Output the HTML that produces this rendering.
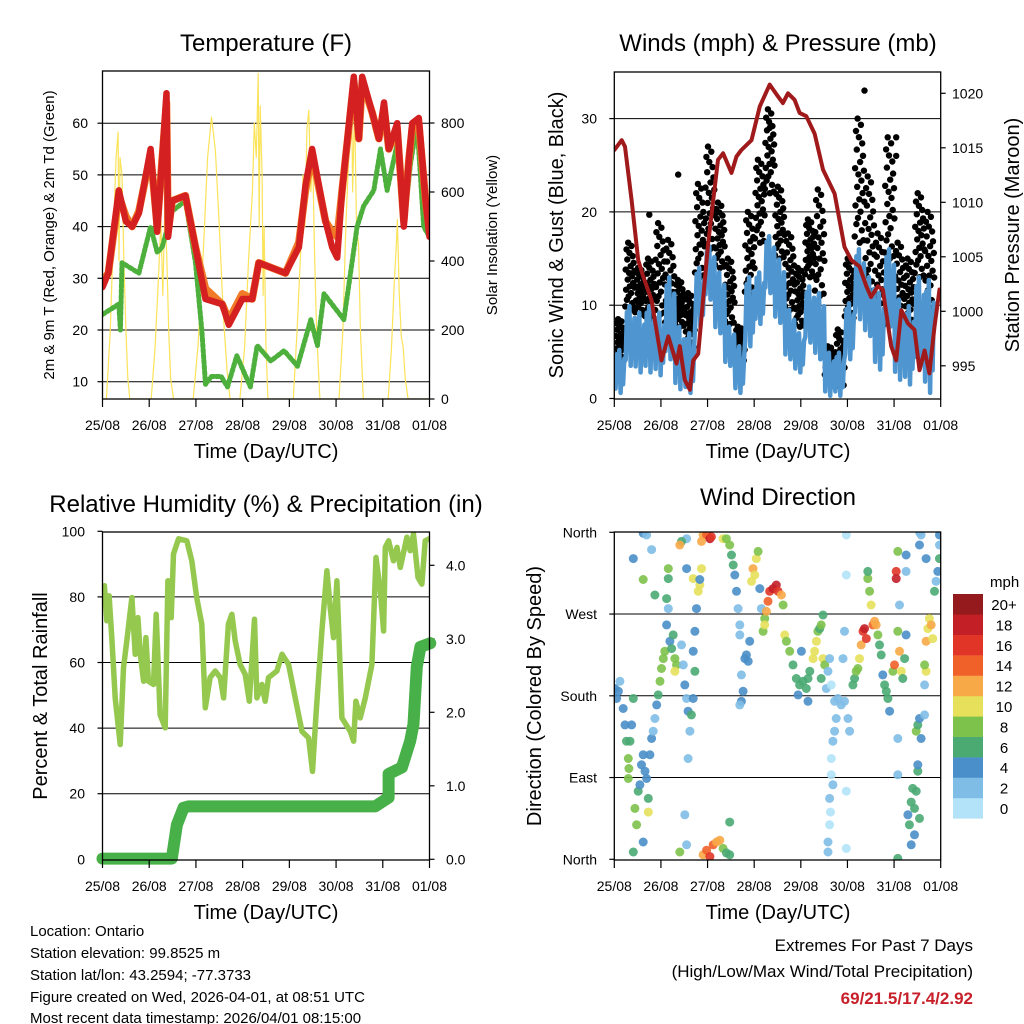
<!DOCTYPE html>
<html><head><meta charset="utf-8"><style>
body{margin:0;background:#fff}
svg{display:block;font-family:"Liberation Sans",sans-serif}
</style></head><body>
<svg id="s" width="1024" height="1024" viewBox="0 0 1024 1024" xmlns="http://www.w3.org/2000/svg">
<defs>
<clipPath id="c1"><rect x="102.5" y="71" width="327" height="328"/></clipPath>
<clipPath id="c2"><rect x="614.3" y="72" width="326.4" height="327"/></clipPath>
<clipPath id="c3"><rect x="102.5" y="532" width="327" height="328"/></clipPath>
<clipPath id="c4"><rect x="614.3" y="532" width="326.4" height="328"/></clipPath>
</defs>
<text x="266" y="51" font-size="24" text-anchor="middle">Temperature (F)</text>
<text x="778" y="51" font-size="24" text-anchor="middle">Winds (mph) &amp; Pressure (mb)</text>
<text x="266" y="512" font-size="24" text-anchor="middle">Relative Humidity (%) &amp; Precipitation (in)</text>
<text x="778" y="505" font-size="24" text-anchor="middle">Wind Direction</text>
<text transform="translate(54,235) rotate(-90)" font-size="15" text-anchor="middle">2m &amp; 9m T (Red, Orange) &amp; 2m Td (Green)</text>
<text transform="translate(497,235) rotate(-90)" font-size="15" text-anchor="middle">Solar Insolation (Yellow)</text>
<text transform="translate(563,235) rotate(-90)" font-size="20" text-anchor="middle">Sonic Wind &amp; Gust (Blue, Black)</text>
<text transform="translate(1019,235) rotate(-90)" font-size="20" text-anchor="middle">Station Pressure (Maroon)</text>
<text transform="translate(47,696) rotate(-90)" font-size="20" text-anchor="middle">Percent &amp; Total Rainfall</text>
<text transform="translate(541,696) rotate(-90)" font-size="20" text-anchor="middle">Direction (Colored By Speed)</text>
<text x="266" y="458" font-size="20" text-anchor="middle">Time (Day/UTC)</text>
<text x="778" y="458" font-size="20" text-anchor="middle">Time (Day/UTC)</text>
<text x="266" y="919" font-size="20" text-anchor="middle">Time (Day/UTC)</text>
<text x="778" y="919" font-size="20" text-anchor="middle">Time (Day/UTC)</text>
<g font-size="15">
<text x="30" y="936">Location: Ontario</text>
<text x="30" y="958">Station elevation: 99.8525 m</text>
<text x="30" y="980">Station lat/lon: 43.2594; -77.3733</text>
<text x="30" y="1002">Figure created on Wed, 2026-04-01, at 08:51 UTC</text>
<text x="30" y="1023">Most recent data timestamp: 2026/04/01 08:15:00</text>
</g>
<g font-size="17" text-anchor="end">
<text x="973" y="951">Extremes For Past 7 Days</text>
<text x="973" y="977">(High/Low/Max Wind/Total Precipitation)</text>
<text x="973" y="1004" fill="#c8202a" font-weight="bold">69/21.5/17.4/2.92</text>
</g>
<text x="990" y="587" font-size="15">mph</text>
</svg>
<script>
// ---- Temperature panel data ----
const tempT=[0,3,8.4,12,15.2,18.7,24.7,28.1,30.6,32.9,33.7,35.8,42.6,47.8,52.9,61.5,64.9,71.8,76.9,80.3,87.2,94.0,100.9,104.3,107.7,114.6,118.0,120.6,123.1,129.1,131.7,133.4,138.6,142.0,144.6,147.1,151.4,154.8,157.4,159.1,162.5,166.0,168];
const tempV=[28.3,31,47,41,40,42.6,55,39,53,65.8,38,45,46,36,26,25,21,26,26,33,32,31,36,48,55,41,36,34,47,69,57,69,62,57,64,55,60,40,53,60,61,45,38];
const temp9V=[29.5,31,46,42,40,43,54,40,53,64,39,45,46,36,28,25,22,27,26,33,32,31,37,47,54,41,39,38,47,68,57,68,62,57,63,55,59,41,53,59,60,45,39];
const tdT=[0,8.4,9.2,10,18.7,24.7,28.1,30.6,35.8,42.6,47.8,51,52.9,56,61,64.2,69,76,79.5,86.4,93.3,100.2,107,110.4,113.8,124,130.8,134.2,139.4,142.8,146.2,151.4,154.8,158.2,161.6,165,168];
const tdV=[23,25,20,33,31,40,35,36,43,45,33,20,9.5,11,11,9,15,9,17,14,16,13,22,17,27,22,40,44,47,55,47,56,40,52,60,40,38];
const solarT=[0,2,4,6,7,8,8.5,9,10,11,12,13,14,25,27,29,30,31,32,33,34,35,36.5,46.6,49,52,54,56,58,60,62,64,65.5,70.6,73,75,77,78,79,80,80.5,81,82,82.5,83,84,85,98,100,102,103,104,105,106,107,108,109,110,111.7,121.5,123.5,125,126.5,128,128.5,129.5,130.5,131.5,132.5,134,146.8,148.5,150,151,151.5,152.5,153.5,154.5,155.5,157,168];
const solarV=[0,0,200,550,700,774,400,700,650,400,200,60,0,0,150,380,520,300,550,420,200,60,0,0,150,450,700,817,720,500,250,80,0,0,150,400,600,800,700,944,500,850,650,300,500,150,0,0,200,450,650,500,780,837,600,700,400,200,0,0,200,500,700,915,600,850,500,450,200,0,0,150,350,450,520,300,180,150,60,0,0];
const tempTicks=[10,20,30,40,50,60];
const solarTicks=[0,200,400,600,800];
const dayLabels=["25/08","26/08","27/08","28/08","29/08","30/08","31/08","01/08"];
// ---- Wind panel data ----
const gustT=[2.9,8.1,13.2,18.3,23.5,28.6,33.7,38.9,44.0,49.2,54.3,59.4,64.6,69.7,74.9,80.0,85.1,90.3,95.4,100.6,105.7,110.8,116.0,121.1,126.2,131.4,136.5,141.7,146.8,151.9,157.1,162.2];
const gustHi=[8.5,16.7,14,15,18.8,17,12.7,11.3,23,27,21,15,7.7,20,25.6,31,22.7,17.7,14,19.2,22.4,5.6,7.4,15,30,23.8,17.7,28,16.7,15,22,20];
const gustLo=[4,9.5,9,8.5,9,7.7,7.7,5.4,13,16,14,8,4,11,16.7,22,15,9.5,7.7,13,11,2.4,1.3,8.5,16.7,11.3,7.7,15,7.7,7.7,13,9.5];
const windHi=[5.2,9.9,9.2,9.9,9.2,13,7.7,7,14,16.3,13.5,7.7,5.6,13,13.5,17.4,14.9,9.5,7,12,11.3,4.9,4.9,10.2,16,13,11.3,16,10.6,9.9,13,12.7];
const windLo=[0.6,3.5,2.8,2.8,2.5,4.2,1,0.6,7.7,10.6,7,3.5,0.6,5.6,8,11.3,8.1,4.2,2.8,6,4.2,0.3,0.3,4.2,8.5,6.7,3.1,7.7,2,1.5,3.5,0.6];
const gustExtraT=[32.9,128.8,18.0,80.0,145.1,145.1];
const gustExtraV=[24,33,19.7,29,28,26];
const presT=[0,3.8,5.5,8.9,12.3,14.9,19.2,24.3,27.8,32.0,33.7,36.3,38.9,40.6,43.2,48.3,53.4,56.0,60.3,62.9,65.4,70.6,74.9,80.0,84.3,86.8,89.4,92.8,95.4,98.8,103.1,107.4,113.4,118.5,122.0,126.2,129.7,132.2,135.7,138.2,142.5,145.1,147.7,151.1,154.5,157.1,159.7,162.2,164.8,167.4,168.2];
const presV=[1014.8,1015.7,1015.1,1010.2,1004.7,1003.2,1001.0,995.5,997.7,995.2,996.8,993.7,992.8,995.5,996.1,1006.2,1013.9,1014.5,1012.7,1014.2,1014.8,1015.7,1018.8,1020.8,1019.7,1019.1,1020.0,1019.4,1018.2,1017.9,1016.3,1013.0,1010.8,1005.9,1004.7,1004.1,1002.3,1001.3,1002.3,1002.0,996.8,995.5,1000.1,998.9,998.3,994.6,996.4,994.3,998.6,1002.0,1001.7];
const windTicks=[0,10,20,30];
const presTicks=[995,1000,1005,1010,1015,1020];
// ---- RH panel data ----
const rhT=[0,1.0,2.2,3.4,4.8,6.5,9.1,10.8,12.5,15.1,16.8,18.2,19.4,21.1,22.3,23.6,26.2,27.6,29.6,32.2,33.6,35.3,36.5,39.1,43.3,45.9,48.4,51.0,52.8,55.3,57.9,60.5,62.2,64.7,66.5,68.2,70.7,73.3,75.4,78.1,79.3,81.9,83.6,85.3,89.6,92.2,95.6,99.0,102.5,105.9,107.9,109.7,112.7,115.3,117.0,118.7,120.4,123.0,127.3,129.0,130.2,132.4,135.0,138.4,140.5,142.7,144.4,145.3,147.0,149.5,151.3,153.0,156.4,158.1,159.8,162.1,164.1,165.8,168.0];
const rhV=[78.8,83.4,72.7,80.3,67.6,49.2,35.0,58.4,66.6,79.8,62.5,73.7,62.5,54.3,67.6,54.3,53.3,74.7,44.1,40.1,84.9,73.7,93.1,97.7,97.1,91.0,79.8,71.7,46.2,55.4,57.4,55.4,49.2,71.7,74.7,66.6,59.4,56.4,48.2,73.2,49.2,53.3,48.2,55.4,57.4,62.5,59.4,49.2,39.0,37.0,26.8,44.1,69.6,88.0,76.8,67.6,84.9,43.1,39.0,36.0,48.2,43.1,49.2,59.4,92.0,81.9,69.6,95.1,97.1,91.0,95.1,89.0,98.2,94.1,99.2,85.9,83.9,97.1,97.7];
const rainT=[0,35.6,38.2,41.6,44.2,140.1,147.0,147.0,153.8,158.1,159.8,161.5,163.3,168.4];
const rainV=[0.01,0.01,0.47,0.70,0.72,0.72,0.84,1.16,1.25,1.61,1.84,2.62,2.89,2.94];
const rhTicks=[0,20,40,60,80,100];
const rainTicks=[0,1,2,3,4];
// ---- Wind direction data ----
const dirT=[0.3,2.1,2.9,1.2,4.6,5.5,6.3,7.2,7.5,8.1,8.9,9.8,7.2,10.6,11.5,12.3,13.2,14.0,14.9,15.8,16.6,17.5,17.5,18.3,19.2,20.0,20.9,21.8,22.6,23.5,24.3,25.2,26.0,9.8,14.9,26.9,27.8,28.6,29.5,30.3,31.2,32.0,31.2,27.8,26.9,34.6,35.5,36.3,37.2,38.0,38.9,38.0,39.7,40.6,41.5,40.6,41.5,42.3,43.2,44.0,44.9,37.2,37.2,34.6,33.7,37.2,33.7,36.3,45.7,47.5,49.2,50.9,52.6,54.3,56.0,57.7,59.4,59.4,45.7,47.5,49.2,50.0,44.9,56.0,57.7,59.4,60.3,61.2,62.0,62.9,63.7,64.6,64.6,65.4,66.3,67.2,68.0,68.9,69.7,65.4,64.6,71.4,72.3,73.1,74.0,70.6,74.9,75.7,77.4,78.3,79.1,80.0,81.7,83.4,84.3,86.0,86.9,76.6,77.4,87.7,88.6,90.3,92.0,93.7,95.4,97.1,98.8,99.7,100.6,96.3,94.6,99.7,102.3,103.1,104.0,104.8,105.7,106.5,107.4,107.4,108.3,106.5,109.1,110.0,110.8,111.7,113.4,114.2,113.4,112.5,111.7,111.7,112.5,110.8,111.3,110.8,110.0,110.0,115.1,116.8,118.5,120.3,121.1,117.7,118.5,119.4,119.4,119.4,119.4,122.8,123.7,124.5,125.4,126.2,127.1,128.0,128.8,129.7,130.5,131.4,132.2,133.1,134.0,134.8,135.7,136.5,137.4,138.2,139.1,140.0,140.8,141.7,130.5,143.4,144.2,145.1,145.1,145.9,146.8,147.7,148.5,149.4,150.2,146.8,145.9,150.2,150.2,145.9,145.9,145.9,151.1,151.9,152.8,153.6,154.5,155.4,156.2,156.2,157.1,154.5,152.8,155.4,156.2,157.1,157.9,159.7,159.7,160.5,159.7,160.5,161.4,162.2,163.1,163.9,164.8,165.6,166.5,167.4,167.4,167.4,157.1,157.1,160.5,157.9,9.8,14.9,16.6,19.2,14.9,20.9,27.8,40.6,44.0];
const dirV=[188,185,196,177,166,148,130,111,100,130,148,177,89,56,38,75,82,104,115,97,89,67,52,115,133,141,155,170,181,196,210,221,229,8,19,258,276,240,232,247,221,214,207,309,287,236,214,192,177,163,141,111,159,177,207,229,251,276,295,302,320,320,353,350,346,16,8,49,5,10,3,16,19,21,12,7,5,41,357,357,353,355,350,353,353,346,335,324,313,295,276,258,247,203,185,221,225,218,240,174,170,320,313,331,339,306,298,276,265,273,284,295,298,302,295,291,280,251,258,247,240,229,214,199,192,196,188,199,207,229,181,174,221,229,240,251,254,258,269,221,214,199,188,207,221,192,174,155,141,130,111,93,82,67,52,38,19,8,177,170,174,155,141,221,251,357,313,75,12,192,199,207,210,221,236,251,254,243,309,295,280,258,262,258,247,236,225,203,192,185,177,163,317,207,214,317,309,251,229,207,199,221,247,280,339,335,317,133,93,1,49,38,63,78,56,75,97,104,45,27,16,141,148,155,133,159,192,207,214,240,254,265,258,243,295,306,317,331,346,357,360,346,331,357,331,359,357,341,308,291,320,309,308];
const dirS=[4,4,3,4,5,4,7,8,8,6,5,6,8,8,9,6,5,4,4,5,4,6,10,4,4,3,3,5,7,8,8,9,8,6,4,4,3,4,6,6,9,8,10,7,6,3,2,4,3,5,3,2,6,5,6,4,5,4,10,10,11,4,2,6,12,2,8,2,12,14,17,14,13,12,9,7,6,7,13,15,18,16,12,10,8,8,7,6,5,4,3,3,2,3,4,4,5,4,4,4,2,12,11,11,8,10,4,3,8,13,14,17,18,18,16,13,9,9,10,11,9,8,7,6,6,6,6,7,6,4,4,4,10,11,10,8,7,8,7,10,8,6,2,3,2,1,2,2,2,2,1,1,2,2,1,1,3,3,2,2,3,2,2,2,3,1,1,0,1,7,7,8,8,10,13,16,18,16,8,9,10,14,12,12,9,7,6,5,6,7,6,5,7,9,14,16,18,8,12,10,7,7,5,3,8,4,3,2,2,6,5,6,7,6,6,6,7,4,6,5,4,8,6,5,4,3,3,10,9,12,10,10,12,11,6,3,4,6,3,4,3,4,4,2,4,4,3,2,8,6,8,10];
const dirTicks=[0,90,180,270,360];
const dirLabels=["North","East","South","West","North"];
const speedColors=["#b3e3f8","#7fbde6","#4a8fc9","#4aaa72","#7dc24b","#e6e05a","#f7a947","#ef6129","#e03527","#c31f27","#951a1d"];
const speedLabels=["0","2","4","6","8","10","12","14","16","18","20+"];

const NS="http://www.w3.org/2000/svg";
const svg=document.getElementById('s');
function mk(tag,parent){const e=document.createElementNS(NS,tag);(parent||svg).appendChild(e);return e;}
function pathFrom(ts,vs,fx,fy){let d='';for(let i=0;i<ts.length;i++){d+=(i?'L':'M')+fx(ts[i]).toFixed(1)+','+fy(vs[i]).toFixed(1);}return d;}

const x1=h=>102.5+h*327/168;
const x2=h=>614.3+h*326.4/168;
const yT=v=>381.7-(v-10)*5.17;
const yS=w=>399-w*0.345;
const yW=v=>398.5-v*9.33;
const yP=p=>93.3+(1020-p)*10.9;
const yR=v=>859.3-v*3.28;
const yRain=r=>859.3-r*73.5;
const yD=d=>859.3-d*327/360;

function frame(x0,y0,w,h,name){
  const r=mk('rect');r.setAttribute('x',x0);r.setAttribute('y',y0);r.setAttribute('width',w);r.setAttribute('height',h);
  r.setAttribute('fill','none');r.setAttribute('stroke','#000');r.setAttribute('stroke-width','1.3');
  
  
}
function hgrid(x0,w,y,name){const l=mk('line');l.setAttribute('x1',x0);l.setAttribute('x2',x0+w);l.setAttribute('y1',y);l.setAttribute('y2',y);l.setAttribute('stroke','#000');l.setAttribute('stroke-width','1');
  
  }
function tick(x,y,dx,dy){const l=mk('line');l.setAttribute('x1',x);l.setAttribute('y1',y);l.setAttribute('x2',x+dx);l.setAttribute('y2',y+dy);l.setAttribute('stroke','#000');l.setAttribute('stroke-width','1.2');
  
  }
function label(x,y,txt,anchor,size,name){const t=mk('text');t.setAttribute('x',x);t.setAttribute('y',y);t.setAttribute('text-anchor',anchor);t.setAttribute('font-size',size);t.textContent=txt;
  
  }
function xAxis(fx,yb){for(let i=0;i<8;i++){const x=fx(i*24);tick(x,yb,0,8);label(x,yb+31,dayLabels[i],'middle',14,'x-tick-label');}}
function line(d,color,w,clip,name,dash){const p=mk('path');p.setAttribute('d',d);p.setAttribute('fill','none');p.setAttribute('stroke',color);p.setAttribute('stroke-width',w);p.setAttribute('stroke-linejoin','round');p.setAttribute('stroke-linecap','round');if(dash)p.setAttribute('stroke-dasharray',dash);p.setAttribute('clip-path','url(#'+clip+')');
  
  return p;}

// ===== Panel 1 =====
tempTicks.forEach(v=>{hgrid(102.5,327,yT(v),'temp-gridline');tick(102.5,yT(v),-5,0);label(88,yT(v)+5,String(v),'end',14,'temp-tick-label');});
solarTicks.forEach(v=>{tick(429.5,yS(v),5,0);label(441,yS(v)+5,String(v),'start',14,'solar-tick-label');});
line(pathFrom(solarT,solarV,x1,yS),'#fbe35a',1.2,'c1','solar-insolation-line');
line(pathFrom(tdT,tdV,x1,yT),'#4daf3c',5,'c1','dewpoint-line','3 2.5');
line(pathFrom(tempT,temp9V,x1,yT),'#f07a28',7.5,'c1','temp-9m-line');
line(pathFrom(tempT,tempV,x1,yT),'#d42020',6.5,'c1','temp-2m-line');
frame(102.5,71,327,328,'temperature-plot-frame');
xAxis(x1,399);

// ===== Panel 2 =====
windTicks.forEach(v=>{if(v>0)hgrid(614.3,326.4,yW(v),'wind-gridline');tick(614.3,yW(v),-5,0);label(597,yW(v)+5,String(v),'end',14,'wind-tick-label');});
presTicks.forEach(v=>{tick(940.7,yP(v),5,0);label(952,yP(v)+5,String(v),'start',14,'pressure-tick-label');});
const fr=[0.05,0.6,0.3,0.9,0.15,0.75,0.45,1,0.2,0.55,0.85,0.35,0.0,0.65,0.25,0.95,0.5,0.1,0.8,0.4,0.7,0.02,0.58,0.33];
const gG=mk('g');gG.setAttribute('clip-path','url(#c2)');


for(let i=0;i<gustT.length;i++){for(let k=0;k<24;k++){const t=gustT[i]-2.57+(k+0.5)*5.14/24;const v=gustLo[i]+fr[k]*(gustHi[i]-gustLo[i]);
  const c=mk('circle',gG);c.setAttribute('cx',x2(t).toFixed(1));c.setAttribute('cy',yW(v).toFixed(1));c.setAttribute('r','3.2');c.setAttribute('fill','#000');
  
  }}
for(let i=0;i<gustExtraT.length;i++){const c=mk('circle',gG);c.setAttribute('cx',x2(gustExtraT[i]).toFixed(1));c.setAttribute('cy',yW(gustExtraV[i]).toFixed(1));c.setAttribute('r','3.2');c.setAttribute('fill','#000');
  
  }
const frb=[0.1,0.9,0.3,1,0,0.7,0.2,0.8];
let wd='';
for(let i=0;i<gustT.length;i++){for(let k=0;k<8;k++){const t=gustT[i]-2.57+(k+0.5)*5.14/8;const v=windLo[i]+frb[k]*(windHi[i]-windLo[i]);wd+=(wd?'L':'M')+x2(t).toFixed(1)+','+yW(v).toFixed(1);}}
line(wd,'#4f96d0',4.5,'c2','sonic-wind-line');
line(pathFrom(presT,presV,x2,yP),'#a01a1c',4,'c2','pressure-line');
frame(614.3,72,326.4,327,'winds-plot-frame');
xAxis(x2,399);

// ===== Panel 3 =====
rhTicks.forEach(v=>{if(v>0&&v<100)hgrid(102.5,327,yR(v),'rh-gridline');tick(102.5,yR(v),-5,0);label(85,yR(v)+5,String(v),'end',14,'rh-tick-label');});
rainTicks.forEach(v=>{tick(429.5,yRain(v),5,0);label(446,yRain(v)+5,v.toFixed(1),'start',14,'rain-tick-label');});
line(pathFrom(rhT,rhV,x1,yR),'#95c84e',5.5,'c3','relative-humidity-line');
const rp=line(pathFrom(rainT,rainV,x1,yRain),'#48b048',12,'c3','total-rainfall-line');
rp.removeAttribute('clip-path');
frame(102.5,532,327,328,'humidity-plot-frame');
xAxis(x1,860);

// ===== Panel 4 =====
dirTicks.forEach((v,i)=>{if(v>0&&v<360)hgrid(614.3,326.4,yD(v),'direction-gridline');tick(614.3,yD(v),-5,0);label(597,yD(v)+5,dirLabels[i],'end',14,'direction-tick-label');});
const dG=mk('g');dG.setAttribute('clip-path','url(#c4)');


for(let i=0;i<dirT.length;i++){const sp=(dirS[i]===undefined)?4:dirS[i];const idx=Math.min(10,Math.floor(sp/2));
  if(dirV[i]===undefined)continue;
  const c=mk('circle',dG);c.setAttribute('cx',x2(dirT[i]).toFixed(1));c.setAttribute('cy',yD(dirV[i]).toFixed(1));c.setAttribute('r','4.5');c.setAttribute('fill',speedColors[idx]);c.setAttribute('fill-opacity','0.9');
  
  }
frame(614.3,532,326.4,328,'direction-plot-frame');
xAxis(x2,860);
for(let i=0;i<11;i++){const y=798-i*20.4;const r=mk('rect');r.setAttribute('x',953);r.setAttribute('y',y.toFixed(1));r.setAttribute('width',30);r.setAttribute('height',20.6);r.setAttribute('fill',speedColors[i]);
  
  
  label(1004,y+16,speedLabels[i],'middle',15,'colorbar-label');}
</script>
</body></html>
